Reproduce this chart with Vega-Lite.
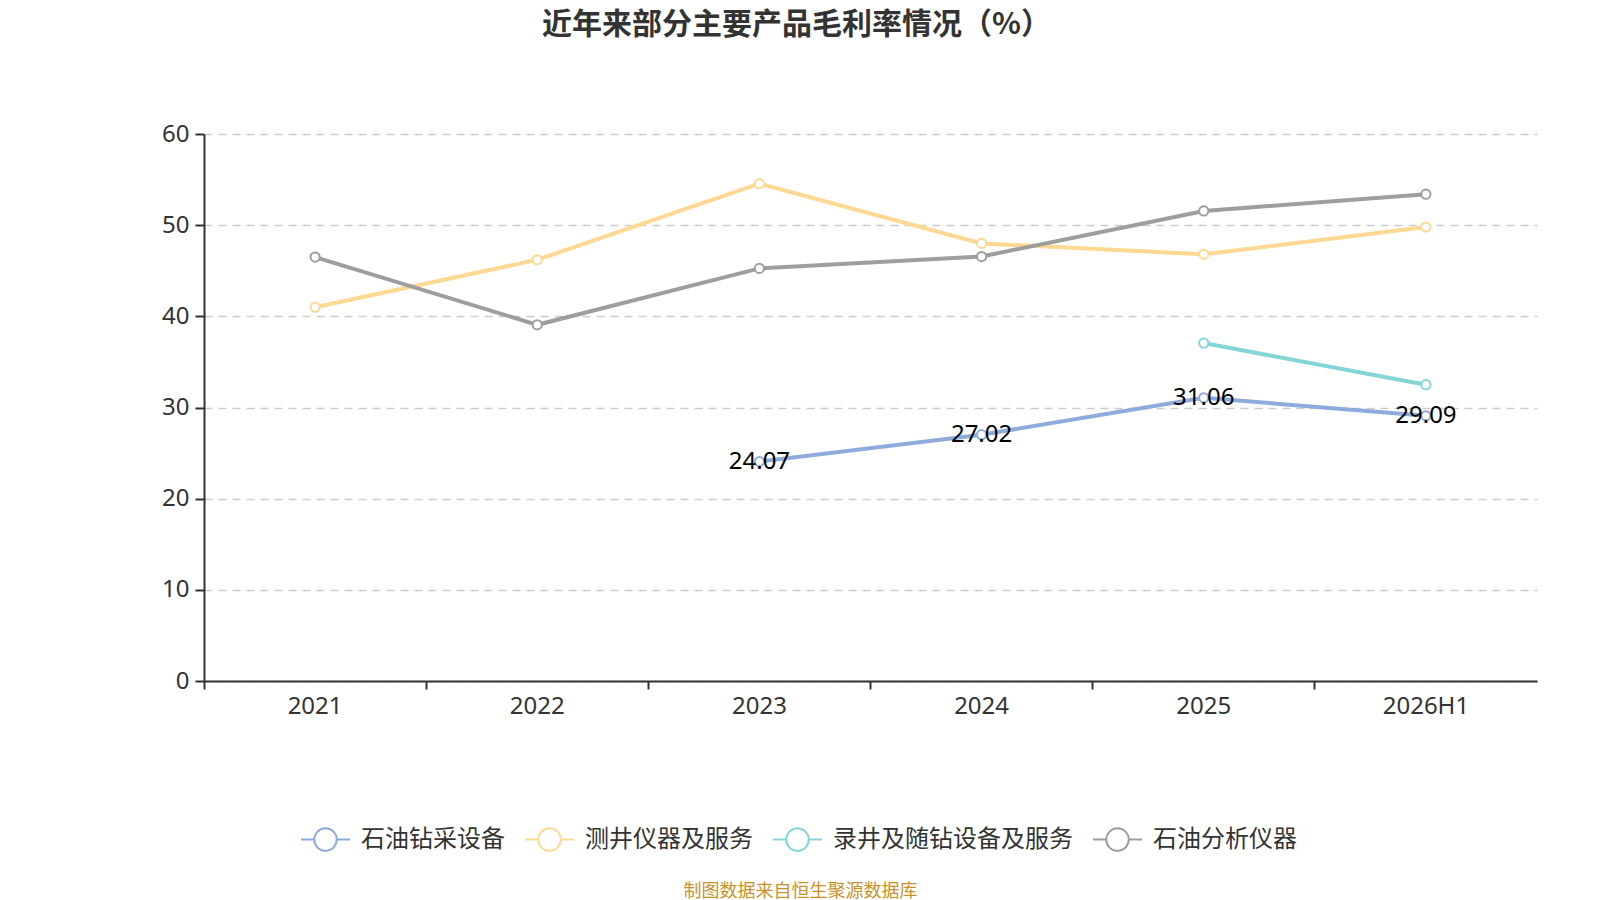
{
  "$schema": "https://vega.github.io/schema/vega-lite/v6.json",
  "autosize": {"type": "none"},
  "width": 1333,
  "height": 547,
  "padding": {"left": 204, "top": 134, "right": 63, "bottom": 219},
  "background": "white",
  "config": {"view": {"stroke": null}},
  "title": {
    "text": "近年来部分主要产品毛利率情况（%）",
    "font": "Noto Sans CJK SC",
    "fontSize": 30,
    "fontWeight": "bold",
    "color": "#333333",
    "anchor": "middle",
    "dx": -74,
    "offset": 82
  },
  "data": {
    "values": [
      {"year": "2023", "series": "石油钻采设备", "value": 24.07},
      {"year": "2024", "series": "石油钻采设备", "value": 27.02},
      {"year": "2025", "series": "石油钻采设备", "value": 31.06},
      {"year": "2026H1", "series": "石油钻采设备", "value": 29.09},
      {"year": "2021", "series": "测井仪器及服务", "value": 41.0},
      {"year": "2022", "series": "测井仪器及服务", "value": 46.2},
      {"year": "2023", "series": "测井仪器及服务", "value": 54.55},
      {"year": "2024", "series": "测井仪器及服务", "value": 48.0},
      {"year": "2025", "series": "测井仪器及服务", "value": 46.8},
      {"year": "2026H1", "series": "测井仪器及服务", "value": 49.8},
      {"year": "2025", "series": "录井及随钻设备及服务", "value": 37.07},
      {"year": "2026H1", "series": "录井及随钻设备及服务", "value": 32.5},
      {"year": "2021", "series": "石油分析仪器", "value": 46.5},
      {"year": "2022", "series": "石油分析仪器", "value": 39.07},
      {"year": "2023", "series": "石油分析仪器", "value": 45.26},
      {"year": "2024", "series": "石油分析仪器", "value": 46.56},
      {"year": "2025", "series": "石油分析仪器", "value": 51.56},
      {"year": "2026H1", "series": "石油分析仪器", "value": 53.4}
    ]
  },
  "encoding": {
    "x": {
      "field": "year",
      "type": "ordinal",
      "sort": ["2021", "2022", "2023", "2024", "2025", "2026H1"],
      "scale": {"type": "band", "paddingInner": 0, "paddingOuter": 0},
      "axis": {
        "title": "制图数据来自恒生聚源数据库",
        "titleFont": "Noto Sans CJK SC",
        "titleFontSize": 18,
        "titleFontWeight": "normal",
        "titleColor": "#c8922a",
        "titleX": 596,
        "titleY": 210,
        "titleAlign": "center",
        "titleBaseline": "middle",
        "titleAnchor": null,
        "bandPosition": 0,
        "labelAngle": 0,
        "labelFont": "Noto Sans",
        "labelFontSize": 24,
        "labelColor": "#333333",
        "labelPadding": 5,
        "domainColor": "#333333",
        "domainWidth": 2,
        "tickColor": "#333333",
        "tickWidth": 2,
        "tickSize": 8,
        "grid": false
      }
    },
    "y": {
      "field": "value",
      "type": "quantitative",
      "scale": {"domain": [0, 60]},
      "axis": {
        "title": null,
        "values": [0, 10, 20, 30, 40, 50, 60],
        "labelFont": "Noto Sans",
        "labelFontSize": 24,
        "labelColor": "#333333",
        "labelPadding": 6,
        "domainColor": "#333333",
        "domainWidth": 2,
        "tickColor": "#333333",
        "tickWidth": 2,
        "tickSize": 9,
        "gridColor": "#cccccc",
        "gridWidth": 1.5,
        "gridDash": [8, 6]
      }
    },
    "color": {
      "field": "series",
      "type": "nominal",
      "sort": ["石油钻采设备", "测井仪器及服务", "录井及随钻设备及服务", "石油分析仪器"],
      "scale": {
        "domain": ["石油钻采设备", "测井仪器及服务", "录井及随钻设备及服务", "石油分析仪器"],
        "range": ["#8eabdb", "#ffd993", "#84d6d6", "#9e9e9e"]
      },
      "legend": {
        "title": null,
        "orient": "none",
        "direction": "horizontal",
        "legendX": 96,
        "legendY": 680,
        "symbolType": "M-1,0L-0.46,0M0.46,0L1,0M-0.46,0A0.46,0.46 0 1,1 0.46,0A0.46,0.46 0 1,1 -0.46,0Z",
        "symbolSize": 2400,
        "symbolStrokeWidth": 2,
        "labelFont": "Noto Sans CJK SC",
        "labelFontSize": 24,
        "labelColor": "#333333",
        "labelOffset": 10,
        "columnPadding": 16,
        "labelLimit": 400,
        "encode": {"symbols": {"update": {"fill": {"value": "white"}, "fillOpacity": {"value": 1}}}}
      }
    }
  },
  "layer": [
    {
      "mark": {"type": "line", "strokeWidth": 4},
      "encoding": {"detail": {"field": "series"}}
    },
    {
      "mark": {"type": "point", "filled": false, "fill": "white", "size": 85, "strokeWidth": 2, "opacity": 1}
    },
    {
      "transform": [{"filter": "datum.series == '石油钻采设备'"}],
      "mark": {"type": "text", "font": "Noto Sans", "fontSize": 24, "baseline": "middle", "align": "center"},
      "encoding": {"text": {"field": "value", "type": "quantitative", "format": ".2f"}, "color": {"value": "black"}}
    }
  ]
}
